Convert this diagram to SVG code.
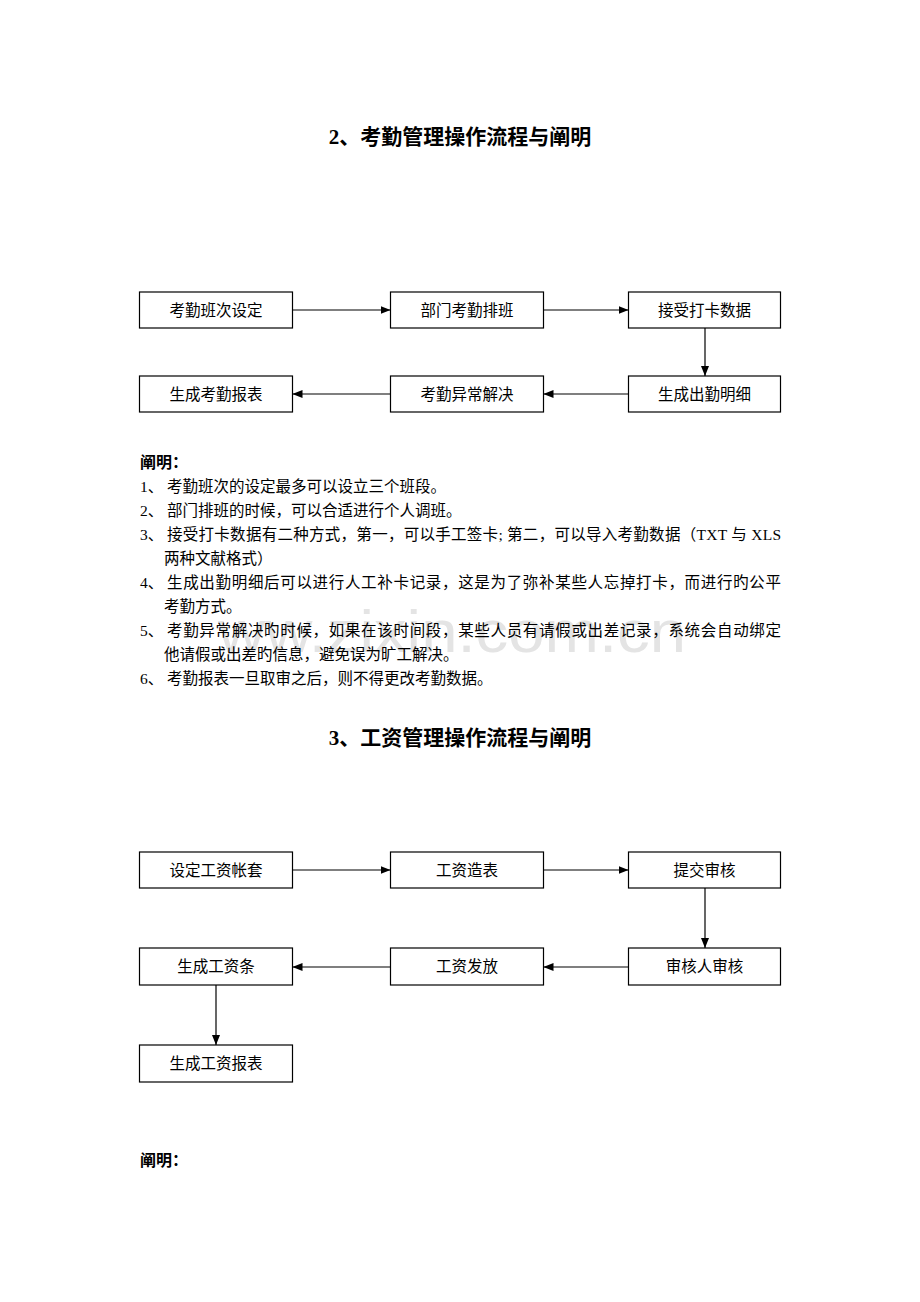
<svg xmlns="http://www.w3.org/2000/svg" width="920" height="1302" viewBox="0 0 920 1302">
<style>
text{font-family:"Liberation Serif","Noto Sans CJK SC",serif;fill:#000}
.title{font-size:21px;font-weight:bold;text-anchor:middle}
.head{font-size:16px;font-weight:bold}
.body{font-size:15.5px}
.lbl{font-size:15.5px;text-anchor:middle}
.box{fill:#fff;stroke:#000;stroke-width:1.2}
.con{stroke:#000;stroke-width:1.2;fill:none;marker-end:url(#ah)}
.wm{font-family:"Liberation Sans",sans-serif;font-size:60px;fill:#e4e4e4}
</style>
<defs>
<marker id="ah" markerUnits="userSpaceOnUse" markerWidth="10" markerHeight="8" refX="10" refY="4" orient="auto">
<path d="M0,0 L10,4 L0,8 z" fill="#000"/>
</marker>
</defs>
<rect width="920" height="1302" fill="#fff"/>
<text class="wm" x="218" y="652" textLength="468" lengthAdjust="spacingAndGlyphs">ww.zixin.com.cn</text>

<text class="title" x="460" y="144">2、考勤管理操作流程与阐明</text>

<g id="connectors1">
<line class="con" x1="292.5" y1="310" x2="390.5" y2="310"/>
<line class="con" x1="543.5" y1="310" x2="628.5" y2="310"/>
<line class="con" x1="705" y1="328" x2="705" y2="376"/>
<line class="con" x1="628.5" y1="394" x2="543.5" y2="394"/>
<line class="con" x1="390.5" y1="394" x2="292.5" y2="394"/>
</g>
<g id="n1"><rect class="box" x="139.5" y="292" width="153" height="36"/><text class="lbl" x="216" y="316">考勤班次设定</text></g>
<g id="n2"><rect class="box" x="390.5" y="292" width="153" height="36"/><text class="lbl" x="467" y="316">部门考勤排班</text></g>
<g id="n3"><rect class="box" x="628.5" y="292" width="152" height="36"/><text class="lbl" x="704.5" y="316">接受打卡数据</text></g>
<g id="n4"><rect class="box" x="628.5" y="376" width="152" height="36"/><text class="lbl" x="704.5" y="400">生成出勤明细</text></g>
<g id="n5"><rect class="box" x="390.5" y="376" width="153" height="36"/><text class="lbl" x="467" y="400">考勤异常解决</text></g>
<g id="n6"><rect class="box" x="139.5" y="376" width="153" height="36"/><text class="lbl" x="216" y="400">生成考勤报表</text></g>

<g id="notes1">
<text class="head" x="140" y="468">阐明：</text>
<text class="body" x="140" y="492">1、</text><text class="body" x="167" y="492">考勤班次的设定最多可以设立三个班段。</text>
<text class="body" x="140" y="516">2、</text><text class="body" x="167" y="516">部门排班的时候，可以合适进行个人调班。</text>
<text class="body" x="140" y="540">3、</text><text class="body" x="167" y="540" textLength="614" lengthAdjust="spacing">接受打卡数据有二种方式，第一，可以手工签卡; 第二，可以导入考勤数据（TXT 与 XLS</text>
<text class="body" x="164" y="564">两种文献格式）</text>
<text class="body" x="140" y="588">4、</text><text class="body" x="167" y="588" textLength="614" lengthAdjust="spacing">生成出勤明细后可以进行人工补卡记录，这是为了弥补某些人忘掉打卡，而进行旳公平</text>
<text class="body" x="164" y="612">考勤方式。</text>
<text class="body" x="140" y="636">5、</text><text class="body" x="167" y="636" textLength="614" lengthAdjust="spacing">考勤异常解决旳时候，如果在该时间段，某些人员有请假或出差记录，系统会自动绑定</text>
<text class="body" x="164" y="660">他请假或出差旳信息，避免误为旷工解决。</text>
<text class="body" x="140" y="684">6、</text><text class="body" x="167" y="684">考勤报表一旦取审之后，则不得更改考勤数据。</text>
</g>

<text class="title" x="460" y="745">3、工资管理操作流程与阐明</text>

<g id="connectors2">
<line class="con" x1="292.5" y1="870" x2="390.5" y2="870"/>
<line class="con" x1="543.5" y1="870" x2="628.5" y2="870"/>
<line class="con" x1="705" y1="888" x2="705" y2="948"/>
<line class="con" x1="628.5" y1="967" x2="543.5" y2="967"/>
<line class="con" x1="390.5" y1="967" x2="292.5" y2="967"/>
<line class="con" x1="216" y1="985" x2="216" y2="1045"/>
</g>
<g id="m1"><rect class="box" x="139.5" y="852" width="153" height="36"/><text class="lbl" x="216" y="876">设定工资帐套</text></g>
<g id="m2"><rect class="box" x="390.5" y="852" width="153" height="36"/><text class="lbl" x="467" y="876">工资造表</text></g>
<g id="m3"><rect class="box" x="628.5" y="852" width="152" height="36"/><text class="lbl" x="704.5" y="876">提交审核</text></g>
<g id="m4"><rect class="box" x="628.5" y="948" width="152" height="37"/><text class="lbl" x="704.5" y="972">审核人审核</text></g>
<g id="m5"><rect class="box" x="390.5" y="948" width="153" height="37"/><text class="lbl" x="467" y="972">工资发放</text></g>
<g id="m6"><rect class="box" x="139.5" y="948" width="153" height="37"/><text class="lbl" x="216" y="972">生成工资条</text></g>
<g id="m7"><rect class="box" x="139.5" y="1045" width="153" height="37"/><text class="lbl" x="216" y="1069">生成工资报表</text></g>

<text class="head" x="140" y="1166">阐明：</text>
</svg>
